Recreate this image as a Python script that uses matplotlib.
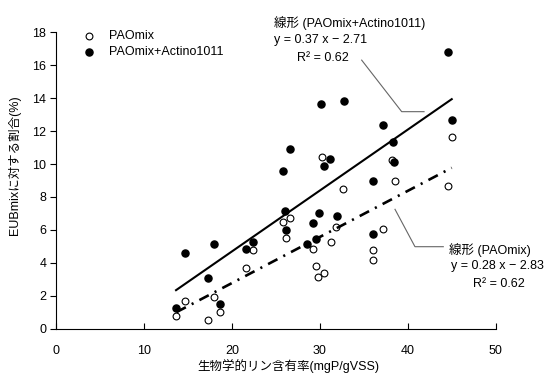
import matplotlib
matplotlib.use("Agg")
import matplotlib.pyplot as plt
import numpy as np

plt.rcParams['font.family'] = ['Liberation Sans', 'Noto Sans CJK JP', 'DejaVu Sans']
plt.rcParams['font.size'] = 9

# PAOmix (open circles)
pao_x = [13.7, 14.7, 17.3, 17.95, 18.65, 21.55, 22.45, 25.8, 26.6, 26.2,
         29.25, 29.6, 29.8, 30.45, 30.2, 31.25, 31.85, 32.67, 36.1, 36.1,
         37.2, 38.2, 38.55, 44.6, 45.0]
pao_y = [0.77, 1.66, 0.55, 1.93, 1.03, 3.67, 4.78, 6.5, 6.73, 5.49,
         4.86, 3.8, 3.16, 3.4, 10.4, 5.28, 6.2, 8.46, 4.76, 4.18,
         6.07, 10.24, 8.95, 8.66, 11.66]

# PAOmix+Actino1011 (filled circles)
act_x = [13.65, 14.7, 17.3, 17.95, 18.65, 21.55, 22.4, 25.8, 26.04, 26.15,
         26.6, 28.55, 29.25, 29.6, 29.85, 30.1, 30.5, 31.2, 31.9, 32.7,
         36.1, 36.1, 37.2, 38.36, 38.45, 44.6, 45.0]
act_y = [1.24, 4.6, 3.1, 5.15, 1.5, 4.83, 5.27, 9.57, 7.17, 6.0,
         10.9, 5.12, 6.4, 5.45, 7.0, 13.64, 9.88, 10.28, 6.86, 13.82,
         8.95, 5.77, 12.4, 11.35, 10.12, 16.8, 12.67]

fit_act = (0.37, -2.71)
fit_pao = (0.28, -2.83)

W, H = 546, 374
fig = plt.figure(figsize=(W / 100, H / 100), dpi=100)
ax = fig.add_axes([56 / W, 1 - 328.7 / H, 439.7 / W, 296.4 / H])


def px(x, y):
    return x / W, 1 - y / H


ax.scatter(pao_x, pao_y, s=24, facecolors='white', edgecolors='black',
           linewidths=0.8, zorder=3, label='PAOmix')
ax.scatter(act_x, act_y, s=26, color='black', zorder=3,
           label='PAOmix+Actino1011')

xa = np.array([min(act_x), max(act_x)])
ax.plot(xa, fit_act[0] * xa + fit_act[1], color='black', lw=1.5, zorder=4)
xp = np.array([min(pao_x), max(pao_x)])
ax.plot(xp, fit_pao[0] * xp + fit_pao[1], color='black', lw=1.9,
        linestyle=(0, (4, 2.5, 0.8, 2.5)), zorder=4)

ax.set_xlim(0, 50)
ax.set_ylim(0, 18)
ax.set_xticks(range(0, 51, 10))
ax.set_yticks(range(0, 19, 2))
ax.spines['top'].set_visible(False)
ax.spines['right'].set_visible(False)
ax.tick_params(axis='y', direction='out', length=4, width=0.8, pad=3)
ax.tick_params(axis='x', direction='in', length=4, width=0.8, pad=12)

leg = ax.legend(loc='upper left', bbox_to_anchor=(0.035, 1.045), frameon=False,
                handletextpad=1.1, labelspacing=0.3, handlelength=1)

# leader lines for the trendline labels
ax.plot([34.76, 39.31, 41.85], [16.31, 13.18, 13.18], color='#666666',
        lw=0.8, clip_on=False)
ax.plot([38.55, 40.82, 44.04], [7.25, 4.98, 4.98], color='#666666',
        lw=0.8, clip_on=False)

fig.text(*px(274, 23), '線形 (PAOmix+Actino1011)', va='center')
fig.text(*px(274, 40), 'y = 0.37 x − 2.71', va='center')
fig.text(*px(297, 58), 'R² = 0.62', va='center')
fig.text(*px(449, 250), '線形 (PAOmix)', va='center')
fig.text(*px(451, 266), 'y = 0.28 x − 2.83', va='center')
fig.text(*px(473, 284), 'R² = 0.62', va='center')

fig.text(*px(288, 366), '生物学的リン含有率(mgP/gVSS)', ha='center', va='center')
fig.text(*px(15, 165), 'EUBmixに対する割合(%)', ha='center', va='center',
         rotation=90)

fig.savefig('out.png', dpi=100)
